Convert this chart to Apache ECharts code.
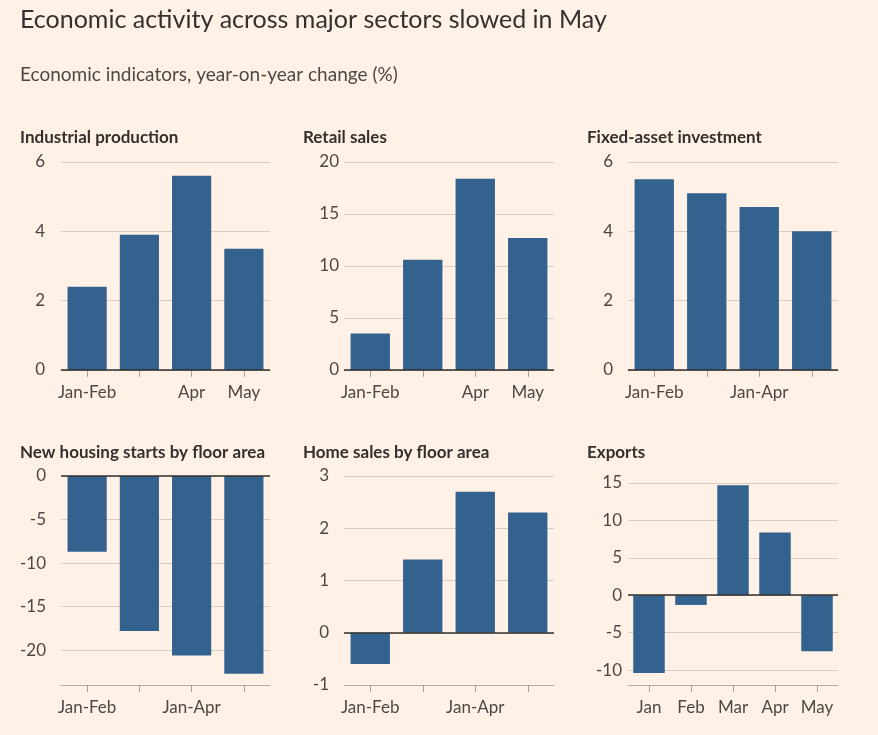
<!DOCTYPE html>
<html>
<head>
  <meta charset="utf-8">
  <script src="https://cdn.jsdelivr.net/npm/echarts@6/dist/echarts.min.js"></script>
</head>
<body style="margin: 0; background: #fff1e5">
  <div id="container" style="width: 878px; height: 735px"></div>
  <script>
    // categories
    var monthCats = ['Jan-Feb', 'Mar', 'Apr', 'May'];
    var ytdCats = ['Jan-Feb', 'Jan-Mar', 'Jan-Apr', 'Jan-May'];
    var exportCats = ['Jan', 'Feb', 'Mar', 'Apr', 'May'];

    // series values (% y/y)
    var industrial = [2.4, 3.9, 5.6, 3.5];
    var retail = [3.5, 10.6, 18.4, 12.7];
    var fixedAsset = [5.5, 5.1, 4.7, 4.0];
    var housingStarts = [-8.7, -17.8, -20.6, -22.7];
    var homeSales = [-0.6, 1.4, 2.7, 2.3];
    var exportsYoY = [-10.4, -1.3, 14.7, 8.4, -7.5];

    var font = 'Lato';
    var ink = '#33302e';
    var barColor = '#33628f';

    var panels = [
      { title: 'Industrial production', cats: monthCats, data: industrial, min: 0, max: 6, interval: 2,
        grid: { left: 61, top: 162, width: 209, height: 208 }, labelMargin: 16, hide: ['Mar'] },
      { title: 'Retail sales', cats: monthCats, data: retail, min: 0, max: 20, interval: 5,
        grid: { left: 344, top: 162, width: 210, height: 208 }, labelMargin: 5, hide: ['Mar'] },
      { title: 'Fixed-asset investment', cats: ytdCats, data: fixedAsset, min: 0, max: 6, interval: 2,
        grid: { left: 628, top: 162, width: 210, height: 208 }, labelMargin: 15, every: 1 },
      { title: 'New housing starts by floor area', cats: ytdCats, data: housingStarts, min: -24, max: 0,
        grid: { left: 61, top: 476, width: 209, height: 209 }, labelMargin: 15, every: 1, hideMin: true },
      { title: 'Home sales by floor area', cats: ytdCats, data: homeSales, min: -1, max: 3, interval: 1,
        grid: { left: 344, top: 476, width: 210, height: 209 }, labelMargin: 15, every: 1 },
      { title: 'Exports', cats: exportCats, data: exportsYoY, min: -12, max: 15,
        grid: { left: 628, top: 483, width: 210, height: 202 }, labelMargin: 6, hideMin: true }
    ];
    var titleLefts = [20, 303, 587];

    var titles = [
      { text: 'Economic activity across major sectors slowed in May', left: 20, top: 7, padding: 0,
        textStyle: { fontFamily: font, fontSize: 25, fontWeight: 'normal', color: ink } },
      { text: 'Economic indicators, year-on-year change (%)', left: 20, top: 65, padding: 0,
        textStyle: { fontFamily: font, fontSize: 19, fontWeight: 'normal', color: '#4d4845' } }
    ];
    var grids = [], xAxes = [], yAxes = [], series = [];

    panels.forEach(function (p, i) {
      titles.push({
        text: p.title, left: titleLefts[i % 3], top: i < 3 ? 129 : 444, padding: 0,
        textStyle: { fontFamily: font, fontSize: 17, fontWeight: 'bold', color: ink }
      });
      grids.push(p.grid);
      xAxes.push({
        type: 'category', gridIndex: i, data: p.cats,
        axisLine: { onZero: false, lineStyle: { color: '#b5aba2', width: 1 } },
        axisTick: { show: true, alignWithLabel: true, interval: 0, length: 7,
          lineStyle: { color: '#a9a098', width: 1 } },
        axisLabel: {
          interval: p.every || 0, margin: 14, fontFamily: font, fontSize: 17, color: '#4d4845',
          formatter: function (v) { return p.hide && p.hide.indexOf(v) >= 0 ? '' : v; }
        }
      });
      var y = {
        type: 'value', gridIndex: i, min: p.min, max: p.max,
        axisLine: { show: false }, axisTick: { show: false },
        axisLabel: { margin: p.labelMargin, fontFamily: font, fontSize: 17, color: '#4d4845',
          showMinLabel: !p.hideMin },
        splitLine: { lineStyle: { color: '#d9ccc1', width: 1 } }
      };
      if (p.interval) y.interval = p.interval;
      yAxes.push(y);
      series.push({
        type: 'bar', xAxisIndex: i, yAxisIndex: i, data: p.data,
        barCategoryGap: '25%',
        itemStyle: { color: barColor },
        markLine: {
          silent: true, symbol: ['none', 'none'], label: { show: false },
          lineStyle: { color: ink, type: 'solid', width: 1.5 },
          data: [{ yAxis: 0 }]
        }
      });
    });

    var chart = echarts.init(document.getElementById('container'), null, { renderer: 'canvas' });
    chart.setOption({
      backgroundColor: '#fff1e5',
      animation: false,
      title: titles,
      grid: grids,
      xAxis: xAxes,
      yAxis: yAxes,
      series: series
    });
  </script>
</body>
</html>
